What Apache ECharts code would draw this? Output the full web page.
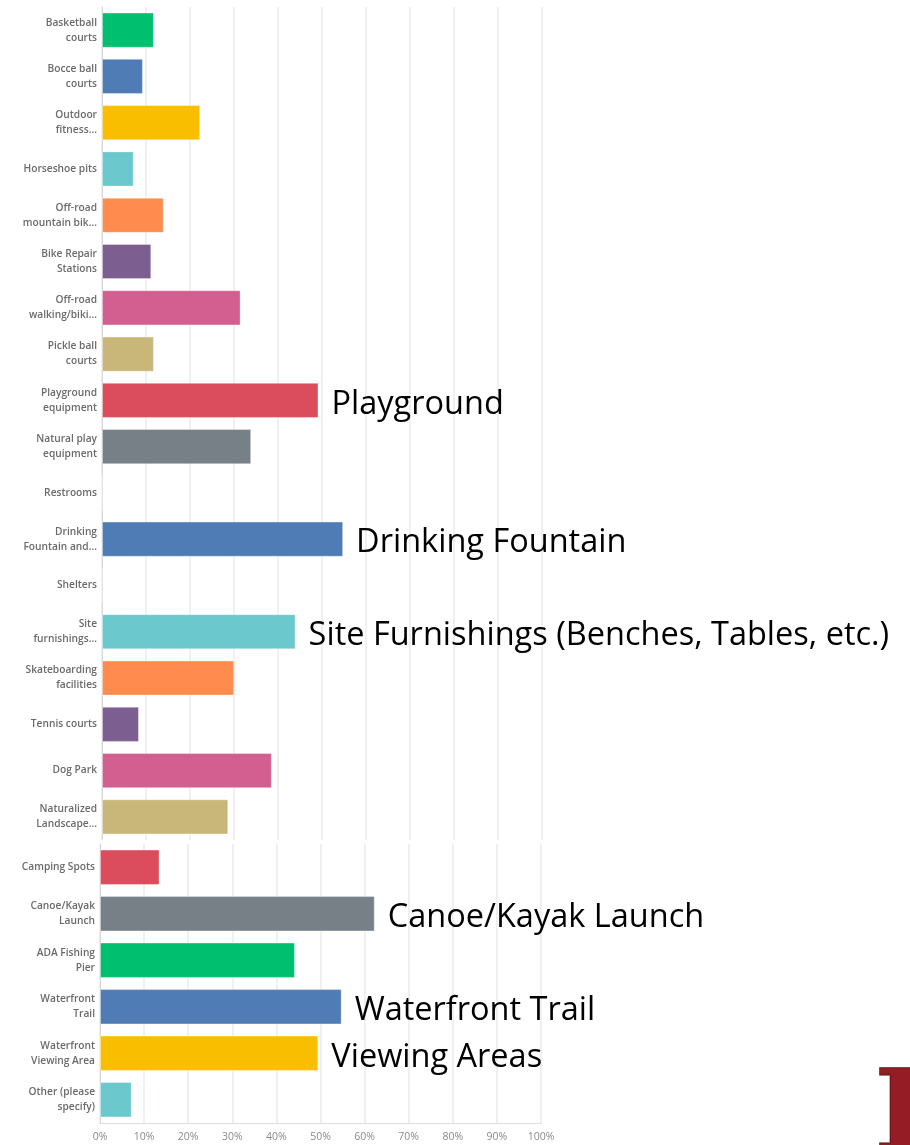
<!DOCTYPE html>
<html>
<head>
<meta charset="utf-8">
<script src="https://cdn.jsdelivr.net/npm/echarts@6/dist/echarts.min.js"></script>
<style>
html,body{margin:0;padding:0;background:#fff;}
#c{width:910px;height:1145px;}
</style>
</head>
<body>
<div id="c"></div>
<script>
// ---- data ----
const categoriesTop = [
  "Basketball\ncourts", "Bocce ball\ncourts", "Outdoor\nfitness...", "Horseshoe pits",
  "Off-road\nmountain bik...", "Bike Repair\nStations", "Off-road\nwalking/biki...",
  "Pickle ball\ncourts", "Playground\nequipment", "Natural play\nequipment", "Restrooms",
  "Drinking\nFountain and...", "Shelters", "Site\nfurnishings...", "Skateboarding\nfacilities",
  "Tennis courts", "Dog Park", "Naturalized\nLandscape..."
];
const valuesTop = [11.8, 9.3, 22.3, 7.2, 14.0, 11.2, 31.5, 11.8, 49.2, 33.9, 0, 54.8, 0, 44.0, 30.0, 8.4, 38.6, 28.7];
const annotationsTop = ["", "", "", "", "", "", "", "", "Playground", "", "", "Drinking Fountain", "", "Site Furnishings (Benches, Tables, etc.)", "", "", "", ""];

const categoriesBottom = [
  "Camping Spots", "Canoe/Kayak\nLaunch", "ADA Fishing\nPier", "Waterfront\nTrail",
  "Waterfront\nViewing Area", "Other (please\nspecify)"
];
const valuesBottom = [13.5, 62.3, 44.2, 54.8, 49.5, 7.2];
const annotationsBottom = ["", "Canoe/Kayak Launch", "", "Waterfront Trail", "Viewing Areas", ""];

const palette = ["#00BF6F", "#507CB6", "#F9BE00", "#6BC8CD", "#FF8B4F", "#7D5E90", "#D25F90", "#C9B77A", "#DB4D5C", "#768086"];
const xTickMax = 100, xTickStep = 10;

// ---- chart ----
const chart = echarts.init(document.getElementById('c'), null, {renderer: 'canvas'});

function catAxis(gi, cats) {
  return {
    type: 'category', gridIndex: gi, data: cats, inverse: true,
    axisTick: {show: false},
    axisLine: {show: true, lineStyle: {color: '#d6d6d6', width: 1}},
    axisLabel: {fontFamily: 'Open Sans', fontSize: 10.2, fontWeight: 600, color: '#6a6a6a', lineHeight: 15, margin: 5, align: 'right'}
  };
}
function valAxis(gi, showLabels) {
  return {
    type: 'value', gridIndex: gi, min: 0, max: xTickMax, interval: xTickStep,
    axisLine: {show: showLabels, lineStyle: {color: '#dcdcdc'}},
    axisTick: {show: false},
    splitLine: {show: true, lineStyle: {color: '#ebebeb', width: 1.5}},
    axisLabel: {show: showLabels, formatter: '{value}%', fontFamily: 'Open Sans', fontSize: 10.5, color: '#8a8a8a', margin: 9}
  };
}
function barSeries(gi, vals, notes, colorOffset) {
  return {
    type: 'bar', xAxisIndex: gi, yAxisIndex: gi,
    data: vals.map((v, i) => ({value: v, itemStyle: {color: palette[(i + colorOffset) % palette.length]}})),
    barCategoryGap: '24%',
    itemStyle: {borderColor: 'rgba(255,255,255,0.35)', borderWidth: 1},
    label: {
      show: true, position: 'right', distance: 13, offset: [0, 4],
      formatter: p => notes[p.dataIndex],
      fontFamily: 'Open Sans', fontSize: 32.5, color: '#000'
    },
    silent: true, animation: false
  };
}

chart.setOption({
  animation: false,
  grid: [
    {left: 102, width: 440, top: 7, height: 833},
    {left: 100, width: 441, top: 844, height: 279}
  ],
  xAxis: [valAxis(0, false), valAxis(1, true)],
  yAxis: [catAxis(0, categoriesTop), catAxis(1, categoriesBottom)],
  series: [barSeries(0, valuesTop, annotationsTop, 0), barSeries(1, valuesBottom, annotationsBottom, 8)],
  graphic: [{
    type: 'text', left: 874, top: 1064,
    style: {
      text: 'R', font: 'bold 112px "DejaVu Serif"',
      fill: '#951c24',
      stroke: '#3a0a0c', lineWidth: 1.5,
      shadowColor: 'rgba(0,0,0,0.5)', shadowBlur: 3, shadowOffsetX: -2, shadowOffsetY: 2
    }
  }]
});
</script>
</body>
</html>
